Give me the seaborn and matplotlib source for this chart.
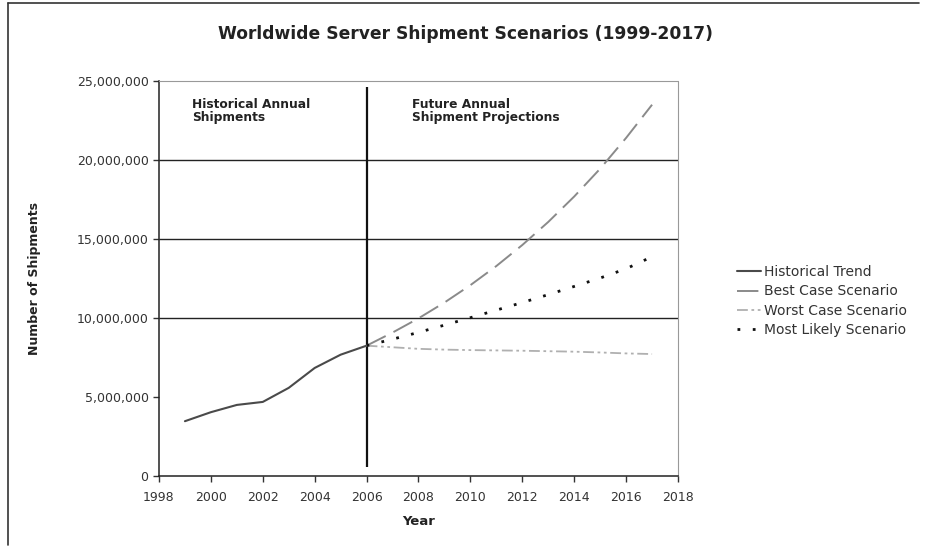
import matplotlib
matplotlib.use("Agg")
import matplotlib.pyplot as plt
import matplotlib.ticker as mticker
import numpy as np
import pandas as pd
import seaborn as sns

# Annual shipment figures (units)
hist_years = [1999, 2000, 2001, 2002, 2003, 2004, 2005, 2006]
hist_values = [3470000, 4040000, 4500000, 4690000, 5580000, 6840000, 7680000, 8250000]

proj_years = [2006, 2007, 2008, 2009, 2010, 2011, 2012, 2013, 2014, 2015, 2016, 2017]
best_case = [8250000, 9080000, 9980000, 10980000, 12080000, 13290000, 14620000,
             16080000, 17690000, 19450000, 21400000, 23500000]
worst_case = [8250000, 8150000, 8050000, 8000000, 7970000, 7950000, 7930000,
              7900000, 7870000, 7820000, 7760000, 7720000]
most_likely = [8250000, 8660000, 9090000, 9550000, 10020000, 10500000, 10980000,
               11480000, 12000000, 12530000, 13120000, 13880000]

series_names = ["Historical Trend", "Best Case Scenario",
                "Worst Case Scenario", "Most Likely Scenario"]

frames = [
    pd.DataFrame({"Year": hist_years, "Shipments": hist_values, "Scenario": series_names[0]}),
    pd.DataFrame({"Year": proj_years, "Shipments": best_case, "Scenario": series_names[1]}),
    pd.DataFrame({"Year": proj_years, "Shipments": worst_case, "Scenario": series_names[2]}),
    pd.DataFrame({"Year": proj_years, "Shipments": most_likely, "Scenario": series_names[3]}),
]
df = pd.concat(frames, ignore_index=True)

sns.set_theme(style="white")
plt.rcParams["font.family"] = ["DejaVu Sans"]

fig = plt.figure(figsize=(9.27, 5.5), dpi=100)
ax = fig.add_axes([0.1715, 0.1345, 0.5599, 0.7182])

palette = {
    series_names[0]: "#4a4a4a",
    series_names[1]: "#8a8a8a",
    series_names[2]: "#b0b0b0",
    series_names[3]: "#111111",
}
dashes = {
    series_names[0]: "",
    series_names[1]: (11, 4.5),
    series_names[2]: (6, 2, 1.5, 2, 1.5, 2),
    series_names[3]: (1, 4.5),
}
widths = {
    series_names[0]: 1.5,
    series_names[1]: 1.4,
    series_names[2]: 1.3,
    series_names[3]: 2.0,
}

# Gridlines drawn beneath the data
ax.hlines([10000000, 15000000, 20000000], 1998, 2018, colors="#222222", lw=1.0, zorder=1)
# Divider between history and projections
ax.vlines(2006, 550000, 24650000, colors="#111111", lw=1.6, zorder=3)

for name in series_names:
    sub = df[df["Scenario"] == name]
    sns.lineplot(data=sub, x="Year", y="Shipments", ax=ax, color=palette[name],
                 lw=widths[name], label=name, zorder=4)
    line = ax.lines[-1]
    if dashes[name]:
        line.set_dashes(dashes[name])
        line.set_dash_capstyle("butt")

ax.set_xlim(1998, 2018)
ax.set_ylim(0, 25000000)
ax.set_xticks(range(1998, 2019, 2))
ax.set_yticks(range(0, 25000001, 5000000))
ax.yaxis.set_major_formatter(mticker.FuncFormatter(lambda v, p: f"{int(v):,}"))
ax.tick_params(axis="both", labelsize=9, colors="#333333", length=4, width=1,
               direction="out", bottom=True, left=True)
ax.tick_params(axis="x", pad=7)

for side in ["left", "bottom"]:
    ax.spines[side].set_color("#222222")
    ax.spines[side].set_linewidth(1.1)
for side in ["top", "right"]:
    ax.spines[side].set_color("#999999")
    ax.spines[side].set_linewidth(0.8)
    ax.spines[side].set_linestyle((0, (1, 1)))

ax.set_xlabel("Year", fontsize=9.5, fontweight="bold", color="#222222", labelpad=8)
ax.set_ylabel("Number of Shipments", fontsize=9, fontweight="bold", color="#222222", labelpad=26)

ax.text(1999.27, 23950000, "Historical Annual\nShipments", fontsize=8.8, fontweight="bold",
        color="#222222", va="top", ha="left", linespacing=1.05)
ax.text(2007.74, 23950000, "Future Annual\nShipment Projections", fontsize=8.8, fontweight="bold",
        color="#222222", va="top", ha="left", linespacing=1.05)

fig.suptitle("Worldwide Server Shipment Scenarios (1999-2017)", x=0.502, y=0.955,
             fontsize=12.3, fontweight="bold", color="#222222")

handles, labels = ax.get_legend_handles_labels()
leg = ax.legend(handles, labels, loc="center left", bbox_to_anchor=(1.09, 0.443),
                frameon=False, fontsize=10, handlelength=1.7, handletextpad=0.2,
                labelspacing=0.38, labelcolor="#333333")

# Outer chart frame
fig.add_artist(plt.Line2D([0.009, 0.991], [0.995, 0.995], color="#333333", lw=1.2,
                          transform=fig.transFigure))
fig.add_artist(plt.Line2D([0.009, 0.009], [0.995, 0.01], color="#333333", lw=1.2,
                          transform=fig.transFigure))

fig.savefig("out.png", dpi=100, facecolor="white")
